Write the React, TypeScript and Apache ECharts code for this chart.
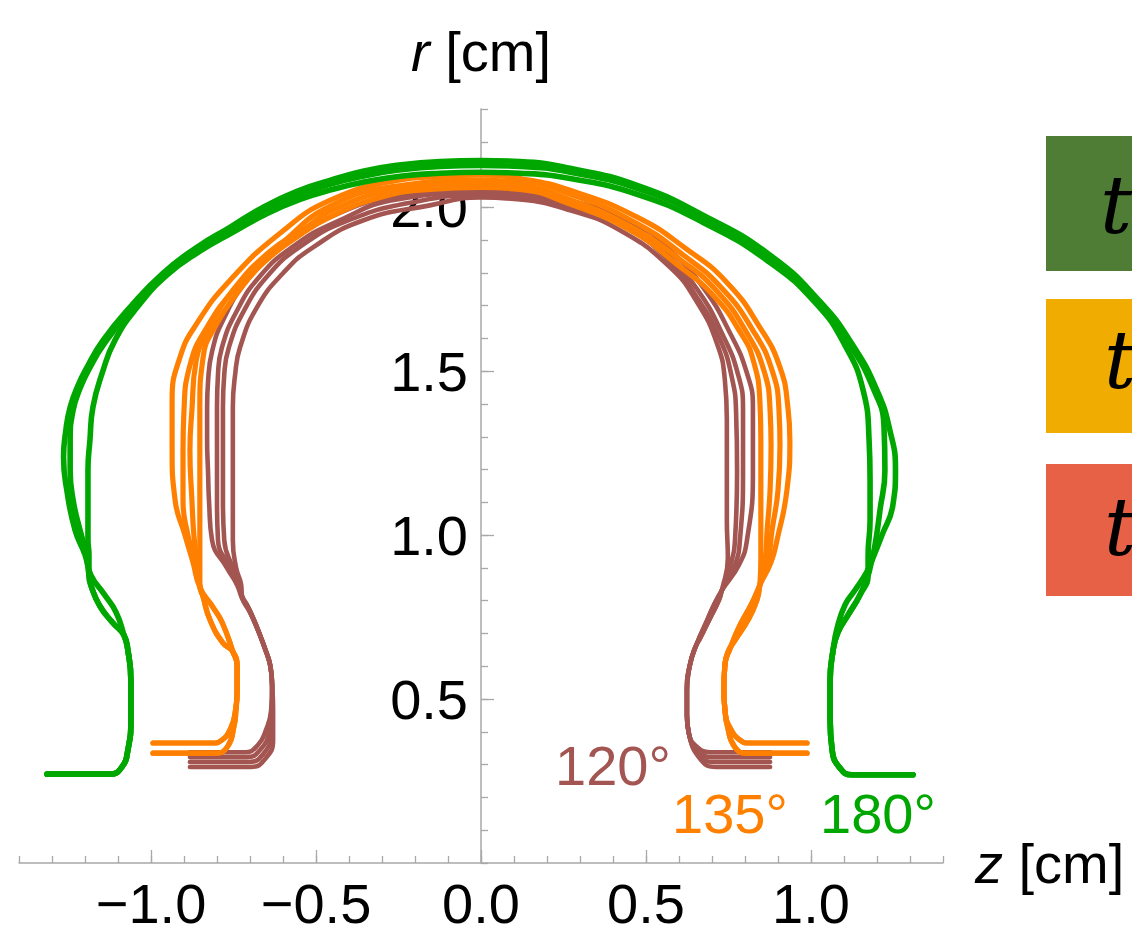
import React, { useEffect, useRef } from "react";
import * as echarts from "echarts";

type P = [number, number];

// ---------- axes ----------
const X_MIN = -1.4, X_MAX = 1.4;
const Y_MIN = 0, Y_MAX = 2.3;
const X_MAJOR = [-1.0, -0.5, 0.0, 0.5, 1.0];
const Y_MAJOR = [0.5, 1.0, 1.5, 2.0];

const GREEN = "#00A700";
const ORANGE = "#FF8000";
const BROWN = "#A35651";
const ANGLE_LABELS = ["120°", "135°", "180°"];
const LEGEND_COLORS = ["#4F7D36", "#F0AC00", "#E66146"];

// ---------- 180° (green) ----------
const G_FOOT_L: P[] = [[-1.315, 0.271], [-1.124, 0.271], [-1.088, 0.293], [-1.070, 0.345], [-1.061, 0.436], [-1.061, 0.558], [-1.070, 0.649], [-1.082, 0.695]];
const G_LENS_L_A: P[] = [[-1.106, 0.765], [-1.142, 0.820], [-1.182, 0.878]];
const G_LENS_L_B: P[] = [[-1.118, 0.735], [-1.155, 0.784], [-1.179, 0.838], [-1.188, 0.878]];
const G1_L: P[] = [[-1.200, 0.940], [-1.230, 1.015], [-1.255, 1.137], [-1.265, 1.238], [-1.258, 1.320], [-1.245, 1.390], [-1.221, 1.457], [-1.194, 1.512], [-1.145, 1.595], [-1.064, 1.695], [-0.964, 1.799], [-0.861, 1.878], [-0.761, 1.939], [-0.661, 2.000], [-0.558, 2.049], [-0.458, 2.082], [-0.358, 2.110], [-0.255, 2.128], [-0.124, 2.140], [0, 2.143]];
const G2_L: P[] = [[-1.195, 0.940], [-1.215, 1.015], [-1.236, 1.107], [-1.245, 1.198], [-1.245, 1.290], [-1.236, 1.381], [-1.215, 1.448], [-1.188, 1.506], [-1.139, 1.588], [-1.058, 1.689], [-0.958, 1.793], [-0.855, 1.872], [-0.755, 1.933], [-0.655, 1.991], [-0.555, 2.037], [-0.458, 2.070], [-0.358, 2.095], [-0.255, 2.113], [-0.124, 2.125], [0, 2.128]];
const G3_L: P[] = [[-1.188, 0.940], [-1.191, 0.985], [-1.191, 1.107], [-1.191, 1.198], [-1.185, 1.290], [-1.176, 1.390], [-1.148, 1.494], [-1.109, 1.595], [-1.042, 1.695], [-0.952, 1.793], [-0.852, 1.866], [-0.752, 1.924], [-0.652, 1.979], [-0.548, 2.024], [-0.448, 2.055], [-0.345, 2.079], [-0.245, 2.095], [-0.124, 2.104], [0, 2.107]];
const G1_R: P[] = [[0.118, 2.140], [0.270, 2.119], [0.473, 2.067], [0.673, 1.976], [0.876, 1.854], [1.027, 1.713], [1.127, 1.579], [1.200, 1.442], [1.239, 1.320], [1.256, 1.200], [1.248, 1.091], [1.215, 1.000], [1.185, 0.924]];
const G2_R: P[] = [[0.118, 2.125], [0.270, 2.107], [0.473, 2.058], [0.673, 1.970], [0.873, 1.848], [1.024, 1.707], [1.121, 1.576], [1.191, 1.442], [1.221, 1.335], [1.224, 1.198], [1.209, 1.076], [1.194, 0.970], [1.179, 0.900]];
const G3_R: P[] = [[0.118, 2.104], [0.270, 2.088], [0.473, 2.040], [0.673, 1.954], [0.870, 1.836], [1.015, 1.707], [1.103, 1.579], [1.158, 1.442], [1.176, 1.290], [1.179, 1.168], [1.179, 1.046], [1.173, 0.939]];
const G_LENS_R_A: P[] = [[1.167, 0.884], [1.133, 0.832], [1.103, 0.787], [1.079, 0.716]];
const G_LENS_R_B: P[] = [[1.173, 0.878], [1.148, 0.817], [1.112, 0.756], [1.082, 0.704]];
const G_FOOT_R: P[] = [[1.067, 0.649], [1.058, 0.558], [1.058, 0.436], [1.064, 0.345], [1.085, 0.293], [1.124, 0.269], [1.309, 0.269]];

// ---------- 135° (orange) ----------
const O_FOOT_L_HI: P[] = [[-0.994, 0.366], [-0.815, 0.366], [-0.785, 0.375], [-0.758, 0.412], [-0.745, 0.460]];
const O_FOOT_L_LO: P[] = [[-0.994, 0.335], [-0.806, 0.335], [-0.768, 0.355], [-0.748, 0.420], [-0.743, 0.460]];
const O_SHIN_L: P[] = [[-0.739, 0.527], [-0.739, 0.600], [-0.752, 0.645]];
const O_LENS_L_A: P[] = [[-0.785, 0.735], [-0.812, 0.780], [-0.852, 0.841]];
const O_LENS_L_B: P[] = [[-0.782, 0.671], [-0.821, 0.741], [-0.842, 0.811], [-0.852, 0.848]];
const O1_L: P[] = [[-0.873, 0.918], [-0.897, 1.000], [-0.927, 1.107], [-0.936, 1.259], [-0.936, 1.412], [-0.912, 1.543], [-0.861, 1.646], [-0.761, 1.777], [-0.609, 1.921], [-0.458, 2.021], [-0.255, 2.082], [-0.124, 2.094], [0, 2.098]];
const O2_L: P[] = [[-0.867, 0.924], [-0.888, 1.000], [-0.903, 1.107], [-0.903, 1.259], [-0.900, 1.381], [-0.882, 1.518], [-0.836, 1.625], [-0.739, 1.759], [-0.594, 1.899], [-0.458, 2.003], [-0.261, 2.064], [0, 2.082]];
const O3_L: P[] = [[-0.861, 0.924], [-0.870, 1.000], [-0.876, 1.107], [-0.882, 1.259], [-0.876, 1.381], [-0.864, 1.527], [-0.821, 1.634], [-0.752, 1.747], [-0.639, 1.866], [-0.533, 1.936], [-0.458, 1.988], [-0.276, 2.049], [0, 2.073]];
const O4_L: P[] = [[-0.852, 0.924], [-0.852, 1.000], [-0.852, 1.107], [-0.852, 1.259], [-0.852, 1.390], [-0.842, 1.543], [-0.800, 1.646], [-0.739, 1.738], [-0.661, 1.829], [-0.558, 1.909], [-0.458, 1.970], [-0.306, 2.030], [-0.155, 2.055], [0, 2.061]];
const O1_R: P[] = [[0.118, 2.088], [0.270, 2.052], [0.473, 1.970], [0.624, 1.872], [0.745, 1.771], [0.845, 1.634], [0.906, 1.512], [0.930, 1.390], [0.936, 1.290], [0.927, 1.137], [0.897, 0.985], [0.879, 0.918]];
const O2_R: P[] = [[0.118, 2.079], [0.270, 2.040], [0.467, 1.954], [0.615, 1.853], [0.730, 1.753], [0.824, 1.625], [0.882, 1.503], [0.903, 1.381], [0.906, 1.274], [0.900, 1.137], [0.882, 1.015], [0.870, 0.924]];
const O3_R: P[] = [[0.118, 2.067], [0.267, 2.024], [0.458, 1.939], [0.603, 1.841], [0.715, 1.744], [0.806, 1.616], [0.858, 1.500], [0.876, 1.381], [0.879, 1.274], [0.876, 1.137], [0.867, 1.015], [0.861, 0.924]];
const O4_R: P[] = [[0.118, 2.055], [0.264, 2.012], [0.452, 1.930], [0.594, 1.826], [0.709, 1.726], [0.791, 1.610], [0.824, 1.537], [0.845, 1.412], [0.848, 1.293], [0.848, 1.171], [0.848, 1.049], [0.848, 0.927]];
const O_LENS_R_A: P[] = [[0.845, 0.848], [0.821, 0.793], [0.785, 0.726], [0.755, 0.655]];
const O_LENS_R_B: P[] = [[0.845, 0.848], [0.836, 0.802], [0.809, 0.741], [0.770, 0.680], [0.748, 0.643]];
const O_SHIN_R: P[] = [[0.739, 0.604], [0.736, 0.527], [0.740, 0.460]];
const O_FOOT_R_HI: P[] = [[0.755, 0.412], [0.785, 0.375], [0.815, 0.366], [0.988, 0.366]];
const O_FOOT_R_LO: P[] = [[0.746, 0.420], [0.768, 0.355], [0.806, 0.335], [0.988, 0.335]];

// ---------- 120° (brown) ----------
const B1_FOOT_L: P[] = [[-0.882, 0.338], [-0.715, 0.338], [-0.676, 0.360], [-0.652, 0.405], [-0.636, 0.466]];
const B2_FOOT_L: P[] = [[-0.882, 0.323], [-0.709, 0.323], [-0.667, 0.348], [-0.642, 0.399], [-0.634, 0.466]];
const B3_FOOT_L: P[] = [[-0.882, 0.308], [-0.703, 0.308], [-0.658, 0.335], [-0.636, 0.390], [-0.632, 0.466]];
const B4_FOOT_L: P[] = [[-0.882, 0.293], [-0.697, 0.293], [-0.652, 0.320], [-0.630, 0.375], [-0.630, 0.466]];
const B_SHIN_L: P[] = [[-0.633, 0.543], [-0.639, 0.604], [-0.655, 0.655]];
const B_LENS_L_A: P[] = [[-0.676, 0.710], [-0.700, 0.765], [-0.724, 0.808]];
const B_LENS_L_B: P[] = [[-0.664, 0.680], [-0.685, 0.735], [-0.709, 0.787], [-0.724, 0.814]];
const B1_L: P[] = [[-0.740, 0.850], [-0.770, 0.900], [-0.815, 0.985], [-0.824, 1.100], [-0.827, 1.189], [-0.830, 1.290], [-0.830, 1.390], [-0.827, 1.470], [-0.815, 1.560], [-0.782, 1.655], [-0.709, 1.777], [-0.609, 1.878], [-0.458, 1.970], [-0.255, 2.036], [-0.124, 2.049], [0, 2.052]];
const B2_L: P[] = [[-0.735, 0.850], [-0.760, 0.900], [-0.797, 0.985], [-0.800, 1.100], [-0.800, 1.250], [-0.800, 1.390], [-0.797, 1.490], [-0.785, 1.573], [-0.742, 1.680], [-0.670, 1.790], [-0.570, 1.880], [-0.440, 1.955], [-0.250, 2.025], [0, 2.045]];
const B3_L: P[] = [[-0.732, 0.850], [-0.752, 0.900], [-0.778, 0.985], [-0.782, 1.100], [-0.782, 1.250], [-0.782, 1.390], [-0.778, 1.490], [-0.764, 1.573], [-0.718, 1.685], [-0.645, 1.793], [-0.548, 1.880], [-0.410, 1.957], [-0.210, 2.015], [0, 2.037]];
const B4_L: P[] = [[-0.727, 0.850], [-0.742, 0.900], [-0.752, 0.985], [-0.752, 1.100], [-0.752, 1.250], [-0.752, 1.390], [-0.745, 1.490], [-0.730, 1.573], [-0.679, 1.695], [-0.600, 1.799], [-0.509, 1.878], [-0.358, 1.960], [-0.155, 2.006], [0, 2.030]];
const B1_R: P[] = [[0.118, 2.049], [0.270, 2.021], [0.473, 1.948], [0.573, 1.869], [0.673, 1.756], [0.755, 1.616], [0.806, 1.494], [0.824, 1.390], [0.824, 1.189], [0.806, 0.985], [0.782, 0.910]];
const B2_R: P[] = [[0.118, 2.040], [0.270, 2.012], [0.458, 1.942], [0.561, 1.860], [0.655, 1.750], [0.733, 1.610], [0.779, 1.490], [0.794, 1.385], [0.794, 1.190], [0.785, 0.990], [0.770, 0.910]];
const B3_R: P[] = [[0.118, 2.033], [0.270, 2.003], [0.440, 1.937], [0.567, 1.840], [0.650, 1.732], [0.724, 1.598], [0.760, 1.482], [0.773, 1.375], [0.776, 1.195], [0.770, 0.990], [0.758, 0.915]];
const B4_R: P[] = [[0.118, 2.024], [0.270, 1.991], [0.421, 1.930], [0.573, 1.817], [0.655, 1.710], [0.715, 1.585], [0.739, 1.473], [0.745, 1.351], [0.745, 1.198], [0.745, 1.046], [0.748, 0.930]];
const B_LENS_R_A: P[] = [[0.730, 0.832], [0.706, 0.787], [0.679, 0.726], [0.655, 0.671]];
const B_LENS_R_B: P[] = [[0.730, 0.832], [0.721, 0.802], [0.694, 0.747], [0.664, 0.686], [0.648, 0.655]];
const B_SHIN_R: P[] = [[0.633, 0.604], [0.624, 0.527], [0.624, 0.451], [0.630, 0.395]];
const B1_FOOT_R: P[] = [[0.648, 0.360], [0.694, 0.338], [0.876, 0.338]];
const B2_FOOT_R: P[] = [[0.655, 0.345], [0.700, 0.323], [0.876, 0.323]];
const B3_FOOT_R: P[] = [[0.661, 0.329], [0.706, 0.308], [0.876, 0.308]];
const B4_FOOT_R: P[] = [[0.667, 0.314], [0.712, 0.293], [0.876, 0.293]];

const join = (...parts: P[][]): P[] => ([] as P[]).concat(...parts);

const CURVES: { color: string; width: number; data: P[] }[] = [
  { color: BROWN, width: 4.6, data: join(B1_FOOT_L, B_SHIN_L, B_LENS_L_A, B1_L, B1_R, B_LENS_R_A, B_SHIN_R, B1_FOOT_R) },
  { color: BROWN, width: 4.6, data: join(B2_FOOT_L, B_SHIN_L, B_LENS_L_B, B2_L, B2_R, B_LENS_R_B, B_SHIN_R, B2_FOOT_R) },
  { color: BROWN, width: 4.6, data: join(B3_FOOT_L, B_SHIN_L, B_LENS_L_A, B3_L, B3_R, B_LENS_R_A, B_SHIN_R, B3_FOOT_R) },
  { color: BROWN, width: 4.6, data: join(B4_FOOT_L, B_SHIN_L, B_LENS_L_B, B4_L, B4_R, B_LENS_R_B, B_SHIN_R, B4_FOOT_R) },
  { color: ORANGE, width: 5.2, data: join(O_FOOT_L_HI, O_SHIN_L, O_LENS_L_A, O1_L, O1_R, O_LENS_R_A, O_SHIN_R, O_FOOT_R_HI) },
  { color: ORANGE, width: 5.2, data: join(O_FOOT_L_HI, O_SHIN_L, O_LENS_L_B, O2_L, O2_R, O_LENS_R_B, O_SHIN_R, O_FOOT_R_HI) },
  { color: ORANGE, width: 5.2, data: join(O_FOOT_L_LO, O_SHIN_L, O_LENS_L_A, O3_L, O3_R, O_LENS_R_A, O_SHIN_R, O_FOOT_R_LO) },
  { color: ORANGE, width: 5.2, data: join(O_FOOT_L_LO, O_SHIN_L, O_LENS_L_B, O4_L, O4_R, O_LENS_R_B, O_SHIN_R, O_FOOT_R_LO) },
  { color: GREEN, width: 5.6, data: join(G_FOOT_L, G_LENS_L_A, G1_L, G1_R, G_LENS_R_A, G_FOOT_R) },
  { color: GREEN, width: 5.6, data: join(G_FOOT_L, G_LENS_L_B, G2_L, G2_R, G_LENS_R_B, G_FOOT_R) },
  { color: GREEN, width: 5.6, data: join(G_FOOT_L, G_LENS_L_B, G3_L, G3_R, G_LENS_R_B, G_FOOT_R) },
];

const FONT = '"Liberation Sans", Arial, sans-serif';
const AXIS_GRAY = "#a8a8a8";

// plot area (pixels) – y axis sits at z = 0
const GRID_LEFT = 19, GRID_RIGHT = 189, GRID_TOP = 109, GRID_BOTTOM = 77;
const PLOT_W = 1132 - GRID_LEFT - GRID_RIGHT;
const Y_AXIS_OFFSET = -Math.round((PLOT_W * (0 - X_MIN)) / (X_MAX - X_MIN));

const isMajor = (v: number) => Math.abs(v * 2 - Math.round(v * 2)) < 1e-6;
const fmt = (v: number) => (v < -1e-9 ? "\u2212" : "") + Math.abs(v).toFixed(1);

export default function App() {
  const ref = useRef<HTMLDivElement>(null);
  useEffect(() => {
    if (!ref.current) return;
    const chart = echarts.init(ref.current, undefined, { renderer: "svg" });
    const tickStyle = { color: AXIS_GRAY, width: 1.3 };
    chart.setOption({
      animation: false,
      backgroundColor: "#ffffff",
      grid: { left: GRID_LEFT, right: GRID_RIGHT, top: GRID_TOP, bottom: GRID_BOTTOM, containLabel: false, outerBoundsMode: "none" },
      xAxis: [
        {
          type: "value", min: X_MIN, max: X_MAX, interval: 0.1, position: "bottom",
          axisLine: { onZero: false, lineStyle: { color: AXIS_GRAY, width: 1.5 } },
          axisTick: { inside: true, length: 7, lineStyle: tickStyle },
          axisLabel: {
            formatter: (v: number) => (isMajor(v) ? fmt(v) : ""),
            fontSize: 56, fontFamily: FONT, color: "#000", margin: 12,
            showMinLabel: true, showMaxLabel: true,
          },
          splitLine: { show: false },
          name: "{i|z} [cm]", nameLocation: "end", nameGap: 32,
          nameTextStyle: { fontSize: 56, fontFamily: FONT, color: "#000", rich: { i: { fontSize: 56, fontFamily: FONT, fontStyle: "italic", color: "#000" } } },
        },
        {
          type: "value", min: X_MIN, max: X_MAX, position: "bottom",
          axisLine: { show: false, onZero: false },
          axisTick: { inside: true, length: 13, customValues: X_MAJOR, lineStyle: tickStyle },
          axisLabel: { show: false },
          splitLine: { show: false },
        },
      ],
      yAxis: [
        {
          type: "value", min: Y_MIN, max: Y_MAX, interval: 0.1, position: "left", offset: Y_AXIS_OFFSET,
          axisLine: { onZero: false, lineStyle: { color: AXIS_GRAY, width: 1.5 } },
          axisTick: { inside: true, length: 7, lineStyle: tickStyle },
          axisLabel: {
            formatter: (v: number) => (isMajor(v) && v > 0.01 ? fmt(v) : ""),
            fontSize: 56, fontFamily: FONT, color: "#000", margin: 13,
          },
          splitLine: { show: false },
          name: "{i|r} [cm]", nameLocation: "end", nameGap: 30,
          nameTextStyle: { fontSize: 56, fontFamily: FONT, color: "#000", rich: { i: { fontSize: 56, fontFamily: FONT, fontStyle: "italic", color: "#000" } } },
        },
        {
          type: "value", min: Y_MIN, max: Y_MAX, position: "left", offset: Y_AXIS_OFFSET,
          axisLine: { show: false, onZero: false },
          axisTick: { inside: true, length: 13, customValues: Y_MAJOR, lineStyle: tickStyle },
          axisLabel: { show: false },
          splitLine: { show: false },
        },
      ],
      series: CURVES.map((c) => ({
        type: "line",
        xAxisIndex: 0,
        yAxisIndex: 0,
        data: c.data,
        showSymbol: false,
        symbol: "none",
        smooth: 0.5,
        silent: true,
        clip: false,
        lineStyle: { color: c.color, width: c.width, cap: "round", join: "round" },
      })),
      graphic: [
        { type: "text", x: 555, y: 765, style: { text: ANGLE_LABELS[0], fill: BROWN, fontSize: 56, fontFamily: FONT, align: "left", verticalAlign: "middle" } },
        { type: "text", x: 672, y: 813, style: { text: ANGLE_LABELS[1], fill: ORANGE, fontSize: 56, fontFamily: FONT, align: "left", verticalAlign: "middle" } },
        { type: "text", x: 820, y: 813, style: { text: ANGLE_LABELS[2], fill: GREEN, fontSize: 56, fontFamily: FONT, align: "left", verticalAlign: "middle" } },
        { type: "rect", shape: { x: 1046, y: 136, width: 120, height: 135 }, style: { fill: LEGEND_COLORS[0] } },
        { type: "rect", shape: { x: 1046, y: 299, width: 120, height: 134 }, style: { fill: LEGEND_COLORS[1] } },
        { type: "rect", shape: { x: 1046, y: 464, width: 120, height: 132 }, style: { fill: LEGEND_COLORS[2] } },
        { type: "text", x: 1100, y: 205, style: { text: "t", fill: "#000", fontSize: 80, fontFamily: '"DejaVu Serif", serif', fontStyle: "italic", align: "left", verticalAlign: "middle" } },
        { type: "text", x: 1104, y: 360, style: { text: "t", fill: "#000", fontSize: 80, fontFamily: '"DejaVu Serif", serif', fontStyle: "italic", align: "left", verticalAlign: "middle" } },
        { type: "text", x: 1104, y: 527, style: { text: "t", fill: "#000", fontSize: 80, fontFamily: '"DejaVu Serif", serif', fontStyle: "italic", align: "left", verticalAlign: "middle" } },
      ],
    });
    return () => chart.dispose();
  }, []);
  return <div ref={ref} style={{ position: "absolute", left: 0, top: 0, width: 1132, height: 940, background: "#fff" }} />;
}
